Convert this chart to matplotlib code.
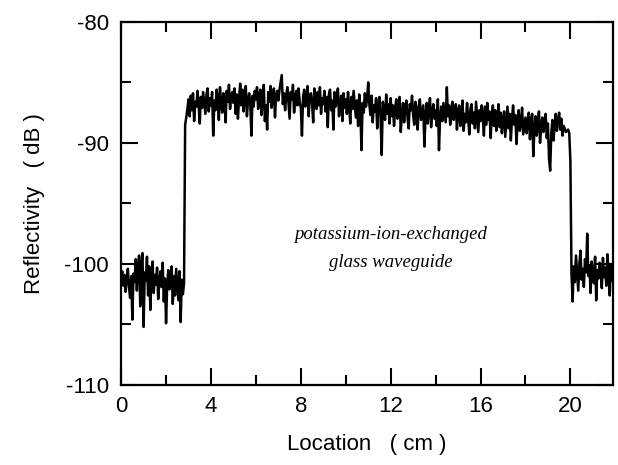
import matplotlib

matplotlib.use("Agg")

import matplotlib.pyplot as plt
import numpy as np
from matplotlib.ticker import MultipleLocator

# sample spacing along the guide (cm)
step_cm = 0.05

# 0.00 - 2.80 cm: background before the guide
base_left = [
    -101.0, -100.6, -101.8, -100.9, -102.3, -101.2, -100.4, -101.9, -102.8, -101.0,
    -104.6, -100.8, -101.5, -99.6, -102.2, -100.3, -99.3, -103.5, -100.1, -99.1,
    -105.2, -100.7, -101.4, -99.4, -102.6, -100.2, -103.8, -101.1, -99.8, -102.4,
    -100.9, -101.7, -100.3, -102.9, -101.5, -100.6, -101.9, -99.9, -103.1, -101.2,
    -104.9, -101.8, -100.5, -102.1, -101.4, -100.2, -103.3, -101.0, -102.6, -100.4,
    -101.7, -103.0, -100.6, -104.8, -101.3, -102.5, -101.6,
]

# 2.85 - 19.95 cm: waveguide
plateau = [
    -88.5, -87.9, -87.2,
    -86.4, -87.8, -86.1, -87.3, -85.9, -88.2, -86.6, -87.0, -85.7, -86.9,
    -88.4, -86.2, -87.1, -85.8, -86.7, -87.6, -86.0, -85.5, -87.4, -86.3,
    -86.9, -85.8, -89.4, -86.5, -87.3, -85.6, -86.2, -88.1, -85.4, -86.8,
    -87.5, -85.9, -86.4, -88.3, -85.7, -86.6, -85.2, -87.2, -86.1, -85.8,
    -86.7, -85.5, -87.6, -86.0, -88.0, -86.3, -85.1, -86.9, -85.6, -87.4,
    -86.2, -85.3, -87.8, -86.5, -85.9, -86.8, -89.4, -86.1, -87.0, -85.7,
    -86.4, -85.4, -87.2, -86.0, -85.6, -87.7, -86.3, -85.2, -88.2, -86.9,
    -88.9, -85.8, -86.6, -85.3, -87.1, -86.4, -85.5, -87.9, -86.0, -85.7,
    -86.5, -85.6, -85.0, -84.4, -86.8, -85.9, -87.3, -86.1, -85.4, -86.7,
    -88.0, -85.8, -86.4, -85.2, -87.5, -86.3, -85.7, -86.9, -85.5, -86.6,
    -87.1, -89.4, -86.2, -85.6, -87.0, -86.4, -85.3, -87.8, -86.1, -85.9,
    -86.7, -88.3, -85.5, -86.5, -87.2, -85.8, -86.9, -85.4, -87.6, -86.3,
    -86.8, -85.7, -87.4, -86.2, -88.7, -86.0, -85.6, -87.3, -86.5, -88.9,
    -85.8, -87.0, -86.3, -85.5, -87.8, -86.6, -86.1, -88.2, -85.9, -87.1,
    -86.4, -87.6, -85.8, -86.9, -88.4, -86.2, -87.2, -85.7, -86.8, -87.9,
    -86.5, -88.6, -86.0, -87.3, -90.6, -86.7, -87.5, -85.9, -87.0, -86.4,
    -85.0, -86.8, -87.7, -86.1, -88.3, -86.9, -87.4, -86.3, -88.8, -87.0,
    -86.2, -87.9, -91.0, -86.6, -87.3, -88.1, -86.0, -87.6, -86.8, -88.4,
    -86.3, -87.8, -86.9, -88.6, -87.1, -86.4, -88.0, -87.4, -86.2, -89.1,
    -87.6, -86.7, -88.3, -87.0, -86.5, -87.9, -88.8, -86.8, -87.3, -86.1,
    -87.7, -88.5, -86.6, -87.2, -88.9, -87.0, -86.4, -88.1, -87.5, -86.9,
    -90.3, -87.8, -86.7, -88.4, -87.1, -86.3, -88.7, -87.4, -86.8, -88.0,
    -87.3, -88.6, -86.4, -90.6, -87.9, -87.0, -88.2, -86.7, -87.5, -88.3,
    -85.4, -87.8, -86.9, -88.5, -87.2, -86.6, -88.1, -87.7, -86.8, -88.9,
    -87.4, -86.9, -88.6, -87.8, -86.5, -89.0, -87.6, -88.3, -86.7, -87.9,
    -89.3, -87.2, -86.8, -88.4, -87.5, -88.8, -86.6, -87.9, -89.1, -87.3,
    -88.2, -86.9, -87.7, -89.4, -87.0, -88.5, -86.7, -88.1, -87.4, -89.6,
    -87.8, -86.9, -88.6, -87.3, -89.0, -88.0, -86.8, -88.7, -87.5, -89.2,
    -88.1, -87.4, -89.5, -88.3, -87.0, -88.8, -87.6, -89.8, -88.0, -86.9,
    -88.5, -87.7, -90.1, -88.2, -87.3, -89.0, -88.4, -87.1, -89.3, -88.6,
    -87.9, -89.2, -88.3, -87.5, -89.7, -88.1, -87.6, -91.1, -88.8, -87.8,
    -89.4, -88.5, -87.4, -90.0, -88.6, -87.9, -89.1, -88.2, -87.6, -89.6,
    -88.4, -91.3, -92.3, -89.2, -88.1, -89.8, -88.5, -87.6, -89.0, -88.2,
    -87.5, -88.9, -88.0, -89.4, -88.6, -88.8, -89.1, -89.0, -88.9, -89.2,
]

# 20.00 - 21.90 cm: end facet and background after the guide
base_right = [
    -91.5, -100.8,
    -103.1, -100.2, -101.5, -99.3, -100.8, -102.2, -100.0, -98.9, -101.3, -100.4,
    -101.9, -99.6, -100.7, -97.5, -101.0, -100.1, -102.4, -99.8, -100.9, -101.6,
    -99.4, -103.0, -100.5, -101.2, -99.9, -100.6, -102.0, -99.5, -101.1, -100.3,
    -101.8, -99.2, -100.7, -102.6, -100.0, -101.4, -100.5,
]

x_ticks = [0, 4, 8, 12, 16, 20]
y_ticks = [-110, -100, -90, -80]

reflectivity = np.array(base_left + plateau + base_right)
location = np.arange(len(reflectivity)) * step_cm

plt.rcParams["font.family"] = ["Liberation Sans", "DejaVu Sans"]
plt.rcParams["axes.unicode_minus"] = False

fig = plt.figure(figsize=(6.18, 4.65), dpi=100)
ax = fig.add_axes([0.196, 0.172, 0.796, 0.781])
ax.plot(location, reflectivity, color="black", linewidth=1.8)

ax.set_xlim(0, 21.9)
ax.set_ylim(-110, -80)
ax.set_xticks(x_ticks)
ax.set_yticks(y_ticks)
ax.xaxis.set_minor_locator(MultipleLocator(2))
ax.yaxis.set_minor_locator(MultipleLocator(5))
ax.tick_params(which="both", direction="in", top=True, right=True,
               width=1.5, labelsize=16)
ax.tick_params(axis="x", pad=8)
ax.tick_params(axis="y", pad=9)
ax.tick_params(which="major", length=12)
ax.tick_params(which="minor", length=7)
for spine in ax.spines.values():
    spine.set_linewidth(1.6)

ax.set_xlabel("Location   ( cm )", fontsize=16, labelpad=12)
ax.set_ylabel("Reflectivity   ( dB )", fontsize=16, labelpad=14)

ax.text(12.0, -97.6, "potassium-ion-exchanged", fontsize=13.5,
        family="Liberation Serif", style="italic", ha="center", va="center")
ax.text(12.0, -99.9, "glass waveguide", fontsize=13.5,
        family="Liberation Serif", style="italic", ha="center", va="center")

fig.savefig("out.png", dpi=100)
plt.close(fig)
